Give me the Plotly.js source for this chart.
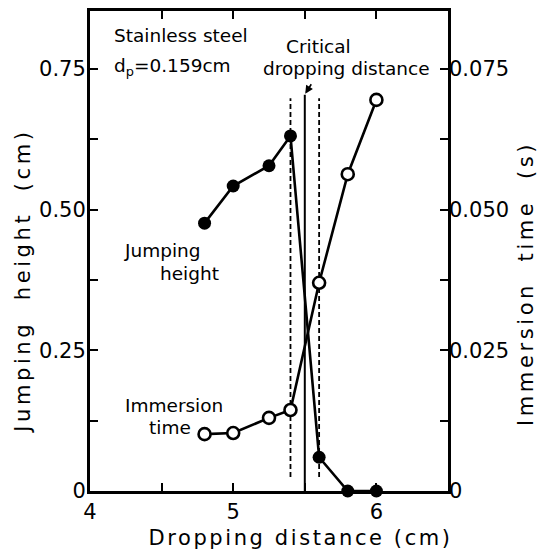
<!DOCTYPE html>
<html>
<head>
<meta charset="utf-8">
<script src="https://cdn.plot.ly/plotly-3.0.1.min.js"></script>
<style>html,body{margin:0;padding:0;background:#fff;}#chart{width:549px;height:553px;}</style>
</head>
<body>
<div id="chart"></div>
<script>
// Data
const dropDistance = [4.8, 5.0, 5.25, 5.4, 5.6, 5.8, 6.0];
const jumpingHeight = [0.476, 0.542, 0.578, 0.631, 0.060, 0.0, 0.0];
const immersionTime = [0.0101, 0.0103, 0.0130, 0.0144, 0.0370, 0.0563, 0.0695];
const dashedX = [5.4, 5.6];
const criticalX = 5.5;
const xTickVals = [4, 5, 6];
const xTickText = ["4", "5", "6"];
const yTickVals = [0, 0.25, 0.5, 0.75];
const yTickText = ["0", "0.25", "0.50", "0.75"];
const y2TickVals = [0, 0.025, 0.05, 0.075];
const y2TickText = ["0", "0.025", "0.050", "0.075"];

const FONT = "DejaVu Sans, Arial, sans-serif";
const nb = "\u00A0";

// plot-area geometry (px) used to place free text
const L = 90, R = 448, T = 11, B = 491;
const px = v => (v - L) / (R - L);
const py = v => (B - v) / (B - T);

const traces = [
  {
    x: dropDistance, y: jumpingHeight, type: "scatter", mode: "lines+markers",
    line: {color: "black", width: 2.6},
    marker: {color: "black", size: 13, symbol: "circle"},
    cliponaxis: false, showlegend: false, name: "Jumping height"
  },
  {
    x: dropDistance, y: immersionTime, type: "scatter", mode: "lines+markers", yaxis: "y2",
    line: {color: "black", width: 2.6},
    marker: {color: "white", size: 12, symbol: "circle", line: {color: "black", width: 2.6}},
    cliponaxis: false, showlegend: false, name: "Immersion time"
  }
];

const shapes = [];
dashedX.forEach(function (xv) {
  shapes.push({type: "line", xref: "x", yref: "y", x0: xv, x1: xv, y0: 0.025, y1: 0.698,
    line: {color: "black", width: 1.8, dash: "5px,3px"}, layer: "below"});
});
shapes.push({type: "line", xref: "x", yref: "y", x0: criticalX, x1: criticalX, y0: 0, y1: 0.704,
  line: {color: "black", width: 2}, layer: "below"});

const annFont = {family: FONT, size: 18.5, color: "black"};
const titleFont = {family: FONT, size: 21, color: "black"};

const annotations = [
  {xref: "paper", yref: "paper", x: px(112), y: py(35), xanchor: "left", yanchor: "middle",
    text: "Stainless steel", showarrow: false, font: annFont},
  {xref: "paper", yref: "paper", x: px(112), y: py(67), xanchor: "left", yanchor: "middle",
    text: "d<sub>p</sub>=0.159cm", showarrow: false, font: annFont},
  {xref: "paper", yref: "paper", x: px(318), y: py(47), xanchor: "center", yanchor: "middle",
    text: "Critical", showarrow: false, font: annFont},
  {xref: "paper", yref: "paper", x: px(432), y: py(68), xanchor: "right", yanchor: "middle",
    text: "dropping distance", showarrow: false, font: annFont},
  {xref: "x", yref: "y", x: criticalX + 0.003, y: 0.706, ax: 7, ay: -11, text: "",
    showarrow: true, arrowhead: 2, arrowsize: 1, arrowwidth: 1.6, arrowcolor: "black"},
  {xref: "paper", yref: "paper", x: px(122), y: py(250), xanchor: "left", yanchor: "middle",
    text: "Jumping", showarrow: false, font: annFont},
  {xref: "paper", yref: "paper", x: px(158), y: py(273), xanchor: "left", yanchor: "middle",
    text: "height", showarrow: false, font: annFont},
  {xref: "paper", yref: "paper", x: px(123), y: py(405), xanchor: "left", yanchor: "middle",
    text: "Immersion", showarrow: false, font: annFont},
  {xref: "paper", yref: "paper", x: px(147), y: py(427), xanchor: "left", yanchor: "middle",
    text: "time", showarrow: false, font: annFont},
  {xref: "paper", yref: "paper", x: px(23), y: py(281), xanchor: "center", yanchor: "middle",
    textangle: -90, text: "Jumping" + nb + nb + "height" + nb + nb + "(cm)", showarrow: false, font: titleFont,
    name: "ytitle"},
  {xref: "paper", yref: "paper", x: px(526), y: py(284), xanchor: "center", yanchor: "middle",
    textangle: -90, text: "Immersion" + nb + nb + "time" + nb + nb + "(s)", showarrow: false, font: titleFont,
    name: "y2title"},
  {xref: "paper", yref: "paper", x: px(300), y: py(538), xanchor: "center", yanchor: "middle",
    text: "Dropping" + nb + "distance" + nb + "(cm)", showarrow: false, font: titleFont,
    name: "xtitle"}
];

const layout = {
  width: 549, height: 553,
  margin: {l: L, r: 549 - R, t: T, b: 553 - B, pad: 0},
  paper_bgcolor: "white", plot_bgcolor: "white",
  font: {family: FONT, size: 21, color: "black"},
  showlegend: false,
  xaxis: {
    range: [4, 6.5], tickvals: xTickVals, ticktext: xTickText,
    ticks: "inside", ticklen: 8, tickwidth: 2.2, tickcolor: "black",
    minor: {dtick: 0.5, tick0: 4, ticks: "inside", ticklen: 8, tickwidth: 2.2, tickcolor: "black"},
    showline: true, linewidth: 3, linecolor: "black", mirror: "ticks",
    showgrid: false, zeroline: false, tickfont: {family: FONT, size: 21}
  },
  yaxis: {
    range: [0, 0.853], tickvals: yTickVals, ticktext: yTickText,
    ticks: "inside", ticklen: 8, tickwidth: 2.2, tickcolor: "black",
    minor: {dtick: 0.125, tick0: 0, ticks: "inside", ticklen: 8, tickwidth: 2.2, tickcolor: "black"},
    showline: true, linewidth: 3, linecolor: "black", mirror: "ticks",
    showgrid: false, zeroline: false, tickfont: {family: FONT, size: 21},
    ticklabelstandoff: -3
  },
  yaxis2: {
    range: [0, 0.0853], tickvals: y2TickVals, ticktext: y2TickText,
    overlaying: "y", side: "right", ticks: "", showline: false,
    showgrid: false, zeroline: false, tickfont: {family: FONT, size: 21}
  },
  shapes: shapes,
  annotations: annotations
};

Plotly.newPlot("chart", traces, layout, {staticPlot: true, displayModeBar: false}).then(function (gd) {
  // widen the letter spacing of the axis titles, as in the reference lettering
  const spacing = {"xtitle": "2.6px", "ytitle": "3.6px", "y2title": "3.6px"};
  const texts = gd.querySelectorAll(".annotation .annotation-text");
  texts.forEach(function (t) {
    const s = t.textContent;
    if (s.indexOf("Dropping") === 0) t.style.letterSpacing = spacing.xtitle;
    else if (s.indexOf("Jumping" + nb) === 0) t.style.letterSpacing = spacing.ytitle;
    else if (s.indexOf("Immersion" + nb) === 0) t.style.letterSpacing = spacing.y2title;
  });
});
</script>
</body>
</html>
